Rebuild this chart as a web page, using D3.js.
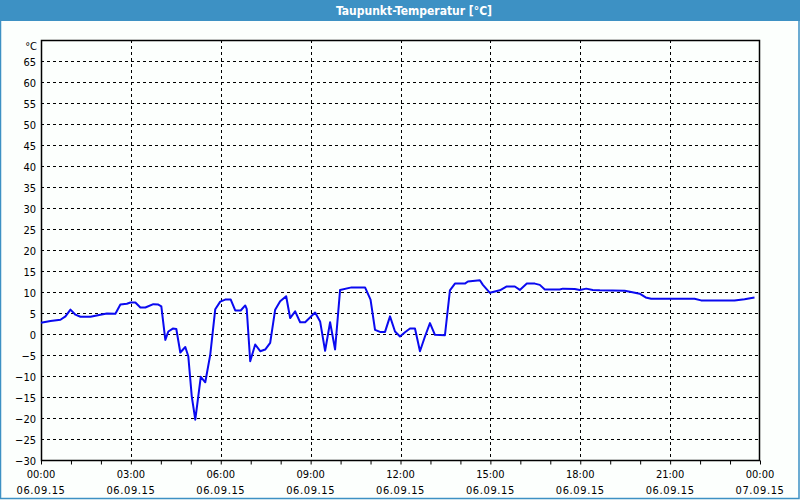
<!DOCTYPE html>
<html>
<head>
<meta charset="utf-8">
<script src="https://cdn.jsdelivr.net/npm/d3@7"></script>
<style>
  html, body { margin: 0; padding: 0; background: #fcfffd; }
  svg { display: block; }
</style>
</head>
<body>
<svg id="chart" width="800" height="500"></svg>
<script>
// ---- data ----
const chartTitle = "Taupunkt-Temperatur [°C]";
const unitLabel = "°C";
const times = ["00:00","00:19","00:39","00:49","00:59","01:09","01:19","01:39","01:59","02:12",
  "02:29","02:39","02:52","02:59","03:09","03:19","03:29","03:45","03:55","04:01",
  "04:09","04:15","04:24","04:31","04:39","04:49","04:55","05:02","05:09","05:20",
  "05:29","05:39","05:49","05:59","06:09","06:20","06:29","06:40","06:49","06:52",
  "06:59","07:09","07:19","07:29","07:39","07:49","07:59","08:11","08:19","08:29",
  "08:39","08:49","09:09","09:19","09:29","09:39","09:49","09:59","10:22","10:49",
  "11:00","11:09","11:19","11:29","11:39","11:49","11:59","12:09","12:19","12:29",
  "12:39","12:49","12:59","13:09","13:29","13:39","13:49","14:09","14:15","14:39",
  "14:45","14:59","15:19","15:32","15:49","15:59","16:13","16:29","16:39","16:49",
  "17:19","17:25","17:49","17:59","18:12","18:25","18:39","19:29","19:42","19:59",
  "20:11","20:22","21:49","22:02","23:09","23:29","23:49"];
const dewPoint = [2.7,3.1,3.4,4.2,5.8,4.6,4.1,4.1,4.6,4.9,
  4.8,7.0,7.2,7.5,7.5,6.3,6.3,7.1,7.0,6.6,
  -1.4,0.6,1.3,1.2,-4.4,-3.1,-5.3,-14.9,-20.4,-10.2,
  -11.5,-4.9,5.9,7.7,8.2,8.2,5.6,5.6,6.8,6.0,
  -6.5,-2.5,-4.1,-3.7,-2.1,5.8,7.8,9.0,3.8,5.4,
  2.8,2.8,5.1,3.0,-4.0,2.8,-3.7,10.5,11.1,11.1,
  8.2,1.0,0.5,0.5,4.2,0.6,-0.6,0.4,1.3,1.3,
  -4.1,-0.6,2.6,-0.2,-0.3,10.4,12.0,12.0,12.5,12.8,
  11.7,9.8,10.4,11.3,11.3,10.5,12.0,12.0,11.7,10.6,
  10.6,10.8,10.7,10.5,10.8,10.5,10.4,10.3,10.0,9.6,
  8.7,8.4,8.4,8.0,8.0,8.3,8.7];
const yTicks = [-30,-25,-20,-15,-10,-5,0,5,10,15,20,25,30,35,40,45,50,55,60,65];
const xTickHours = [0,3,6,9,12,15,18,21,24];
const xTickTimes = ["00:00","03:00","06:00","09:00","12:00","15:00","18:00","21:00","00:00"];
const xTickDates = ["06.09.15","06.09.15","06.09.15","06.09.15","06.09.15","06.09.15","06.09.15","06.09.15","07.09.15"];
const yDomain = [-30, 70];
const xDomainHours = [0, 24];

// ---- layout ----
const svg = d3.select("#chart");
const W = 800, H = 500;
const m = { left: 41, right: 40, top: 40, bottom: 40 };
const x = d3.scaleLinear().domain(xDomainHours).range([m.left, W - m.right]);
const y = d3.scaleLinear().domain(yDomain).range([H - m.bottom, m.top]);
const toHours = s => { const [h, mi] = s.split(":").map(Number); return h + mi / 60; };
const data = times.map((t, i) => ({ h: toHours(t), v: dewPoint[i] }));

const frameBlue = "#3d91c4";
const font = "Tahoma, 'DejaVu Sans Condensed', 'Liberation Sans', Arial, sans-serif";

// background + frame
svg.append("rect").attr("x", 0).attr("y", 0).attr("width", W).attr("height", H).attr("fill", "#fcfffd");
svg.append("rect").attr("x", 0.5).attr("y", 0.5).attr("width", W - 1.5).attr("height", H - 2)
  .attr("fill", "none").attr("stroke", frameBlue).attr("stroke-width", 1.5);
svg.append("rect").attr("x", 0).attr("y", 0).attr("width", W).attr("height", 21).attr("fill", frameBlue);
svg.append("text").attr("x", 414).attr("y", 15).attr("text-anchor", "middle")
  .attr("font-family", font).attr("font-weight", "bold").attr("font-size", 12)
  .attr("fill", "#ffffff").text(chartTitle);

const g = svg.append("g");

// grid lines
g.append("g").selectAll("line").data(yTicks.filter(d => d > yDomain[0])).join("line")
  .attr("x1", m.left).attr("x2", W - m.right)
  .attr("y1", d => Math.round(y(d)) + 0.5).attr("y2", d => Math.round(y(d)) + 0.5)
  .attr("stroke", "#000").attr("stroke-width", 1).attr("stroke-dasharray", "3,3");
g.append("g").selectAll("line").data(xTickHours.filter(d => d > 0 && d < 24)).join("line")
  .attr("x1", d => Math.round(x(d)) + 0.5).attr("x2", d => Math.round(x(d)) + 0.5)
  .attr("y1", m.top).attr("y2", H - m.bottom)
  .attr("stroke", "#000").attr("stroke-width", 1).attr("stroke-dasharray", "3,3");

// plot border
g.append("rect").attr("x", m.left + 0.5).attr("y", m.top + 0.5)
  .attr("width", W - m.left - m.right - 1).attr("height", H - m.top - m.bottom)
  .attr("fill", "none").attr("stroke", "#000").attr("stroke-width", 1.5);

// x axis: hourly minor ticks and labels
const xAxis = d3.axisBottom(x).tickValues(d3.range(0, 25, 1)).tickSize(4).tickFormat("");
const xa = g.append("g").attr("transform", `translate(0,${H - m.bottom + 0.5})`).call(xAxis);
xa.select(".domain").remove();
xa.selectAll("line").attr("stroke", "#000");

const xl = g.append("g").selectAll("g").data(xTickHours).join("g")
  .attr("transform", d => `translate(${x(d)},0)`)
  .attr("font-family", font).attr("font-size", 11).attr("fill", "#000").attr("text-anchor", "middle");
xl.append("text").attr("y", 478).text((d, i) => xTickTimes[i]);
xl.append("text").attr("y", 494).attr("letter-spacing", 0.6).text((d, i) => xTickDates[i]);

// y axis labels
const yAxis = d3.axisLeft(y).tickValues(yTicks).tickSize(0).tickPadding(5);
const ya = g.append("g").attr("transform", `translate(${m.left},0)`).call(yAxis);
ya.select(".domain").remove();
ya.selectAll("text").attr("font-family", font).attr("font-size", 11).attr("fill", "#000").attr("dy", "0.45em");
g.append("text").attr("x", 37).attr("y", 50).attr("text-anchor", "end")
  .attr("font-family", font).attr("font-size", 11).attr("fill", "#000").text(unitLabel);

// data line
const line = d3.line().x(d => x(d.h)).y(d => y(d.v));
g.append("path").datum(data).attr("d", line)
  .attr("fill", "none").attr("stroke", "#0a0af0").attr("stroke-width", 2)
  .attr("stroke-linejoin", "round");
</script>
</body>
</html>
